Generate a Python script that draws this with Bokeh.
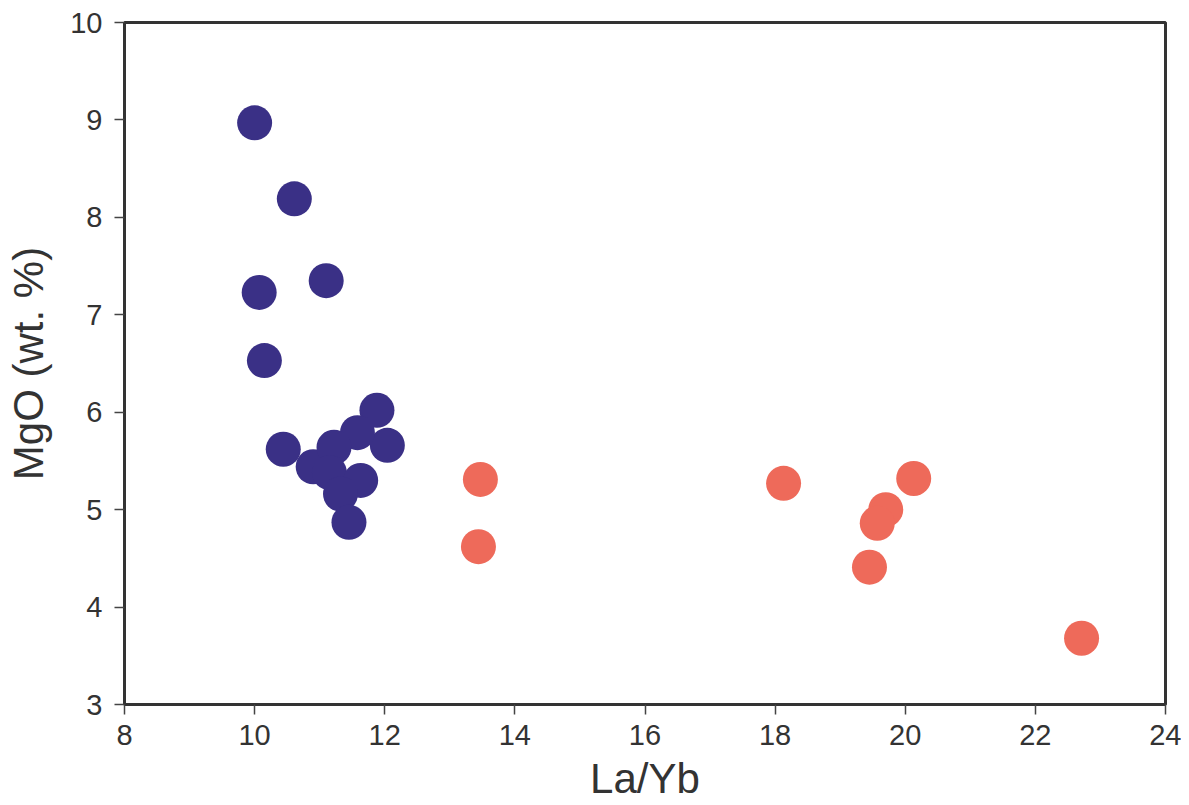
from bokeh.plotting import figure
from bokeh.models import Range1d, FixedTicker
from bokeh.embed import file_html
from bokeh.resources import INLINE

# Group 1 (blue)
blue_x = [10.0, 10.61, 10.07, 11.10, 10.15, 10.44, 10.90, 11.88, 12.04, 11.58,
          11.22, 11.15, 11.63, 11.32, 11.45]
blue_y = [8.97, 8.19, 7.23, 7.35, 6.53, 5.62, 5.44, 6.02, 5.66, 5.79,
          5.64, 5.38, 5.30, 5.16, 4.87]

# Group 2 (red)
red_x = [13.47, 13.44, 18.13, 20.13, 19.70, 19.57, 19.45, 22.71]
red_y = [5.31, 4.62, 5.27, 5.32, 5.00, 4.86, 4.41, 3.68]

x_ticks = [8, 10, 12, 14, 16, 18, 20, 22, 24]
y_ticks = [3, 4, 5, 6, 7, 8, 9, 10]

p = figure(width=1181, height=797, output_backend="svg", toolbar_location=None,
           x_range=Range1d(8, 24), y_range=Range1d(3, 10),
           frame_width=1041, frame_height=682,
           min_border_left=124, min_border_right=16, min_border_top=22, min_border_bottom=93)

p.scatter(blue_x, blue_y, size=35, marker="circle", fill_color="#3A3086", line_color=None)
p.scatter(red_x, red_y, size=35, marker="circle", fill_color="#EE6A5A", line_color=None)

p.xgrid.visible = False
p.ygrid.visible = False
p.outline_line_color = "#333333"
p.outline_line_width = 3
p.outline_line_alpha = 1.0

for ax in (p.xaxis[0], p.yaxis[0]):
    ax.axis_line_color = "#333333"
    ax.axis_line_width = 3
    ax.major_tick_line_color = "#444444"
    ax.major_tick_line_width = 1.5
    ax.major_tick_in = 0
    ax.major_tick_out = 10
    ax.minor_tick_line_color = None
    ax.major_label_text_font = "Liberation Sans"
    ax.major_label_text_font_size = "29px"
    ax.major_label_text_color = "#333333"
    ax.axis_label_text_font = "Liberation Sans"
    ax.axis_label_text_font_size = "42px"
    ax.axis_label_text_font_style = "normal"
    ax.axis_label_text_color = "#333333"

p.xaxis.ticker = FixedTicker(ticks=x_ticks)
p.yaxis.ticker = FixedTicker(ticks=y_ticks)
p.xaxis.axis_label = "La/Yb"
p.yaxis.axis_label = "MgO (wt. %)"
p.xaxis.major_label_standoff = 10
p.yaxis.major_label_standoff = 12
p.xaxis.axis_label_standoff = 7
p.yaxis.axis_label_standoff = 15

open("out.html", "w").write(file_html(p, INLINE))
